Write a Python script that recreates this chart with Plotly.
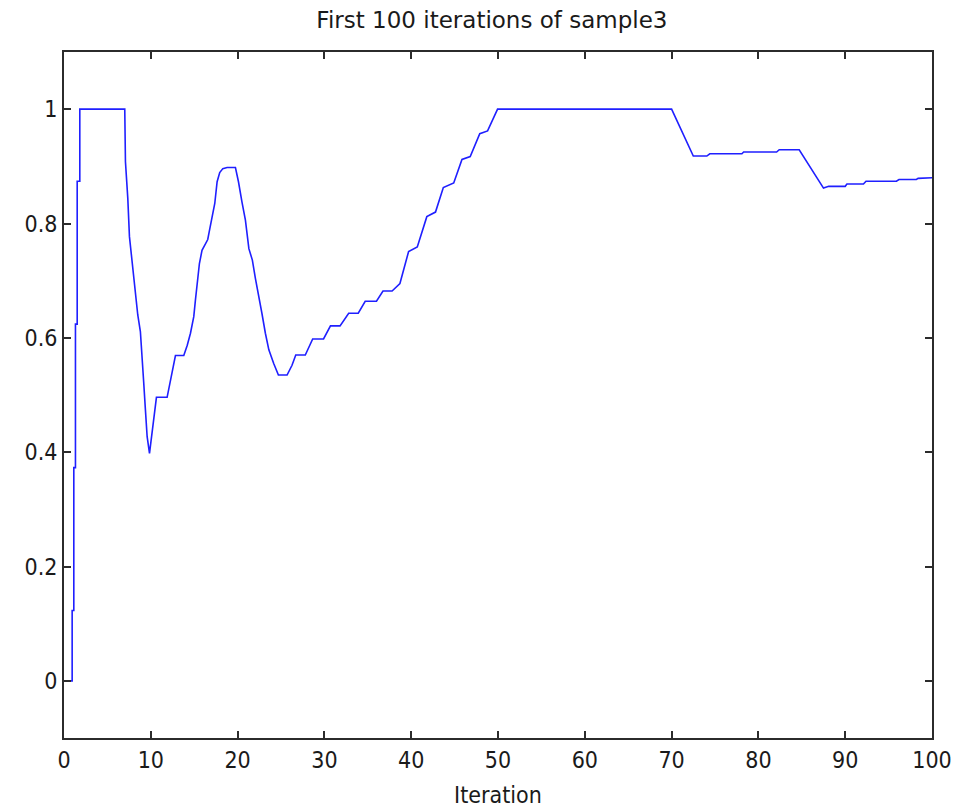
import plotly.graph_objects as go

# Running value of sample3 over the first 100 iterations
iteration = [
    0.25, 0.94, 0.94, 1.13, 1.13, 1.32, 1.32, 1.52, 1.52, 1.82, 1.82, 7.0,
    7.08, 7.35, 7.54, 7.85, 8.04, 8.23, 8.5, 8.8, 9.0, 9.19, 9.38, 9.58, 9.85,
    10.15, 10.34, 10.65, 11.88, 12.2, 12.46, 12.84, 13.8, 14.2, 14.57, 14.95,
    15.14, 15.4, 15.6, 15.9, 16.56, 16.8, 17.06, 17.37, 17.64, 17.94, 18.3,
    18.79, 19.75, 20.1, 20.5, 20.9, 21.3, 21.7, 22.05, 22.4, 22.8, 23.2, 23.6,
    24.16, 24.7, 25.7, 26.27, 26.7, 27.8, 28.65, 29.9, 30.7, 31.8, 32.8, 33.9,
    34.7, 36.0, 36.75, 37.8, 38.7, 39.7, 40.7, 41.8, 42.8, 43.7, 44.9, 45.85,
    46.8, 47.9, 48.8, 49.95, 70.0, 72.5, 74.06, 74.4, 78.1, 78.3, 82.1, 82.4,
    84.7, 87.5, 88.1, 90.0, 90.2, 92.1, 92.4, 95.9, 96.2, 98.2, 98.4, 100.0,
]
value = [
    0.0, 0.0, 0.123, 0.123, 0.373, 0.373, 0.624, 0.624, 0.874, 0.874, 1.0, 1.0,
    0.908, 0.844, 0.777, 0.73, 0.704, 0.672, 0.64, 0.611, 0.57, 0.52, 0.474,
    0.427, 0.398, 0.433, 0.459, 0.496, 0.496, 0.52, 0.544, 0.569, 0.569, 0.587,
    0.608, 0.637, 0.666, 0.701, 0.73, 0.753, 0.772, 0.791, 0.812, 0.835, 0.873,
    0.889, 0.896, 0.898, 0.898, 0.873, 0.838, 0.806, 0.756, 0.736, 0.704,
    0.672, 0.643, 0.608, 0.579, 0.555, 0.535, 0.535, 0.552, 0.57, 0.57, 0.598,
    0.598, 0.621, 0.621, 0.643, 0.643, 0.664, 0.664, 0.682, 0.682, 0.695,
    0.751, 0.759, 0.812, 0.82, 0.863, 0.871, 0.912, 0.917, 0.957, 0.962, 1.0,
    1.0, 0.918, 0.918, 0.922, 0.922, 0.925, 0.925, 0.929, 0.929, 0.862, 0.865,
    0.865, 0.869, 0.869, 0.874, 0.874, 0.877, 0.877, 0.879, 0.88,
]

x_ticks = [0, 10, 20, 30, 40, 50, 60, 70, 80, 90, 100]
y_ticks = [0, 0.2, 0.4, 0.6, 0.8, 1]
y_tick_text = ["0", "0.2", "0.4", "0.6", "0.8", "1"]

tick_font = dict(family="DejaVu Sans Condensed, sans-serif", size=23, color="#1a1a1a")

fig = go.Figure(
    go.Scatter(
        x=iteration, y=value, mode="lines",
        line=dict(color="#1f1fff", width=1.6),
        hoverinfo="x+y",
    )
)

axis_common = dict(
    showline=True, linecolor="#2b2b2b", linewidth=2, mirror="allticks",
    ticks="inside", ticklen=7, tickwidth=1.5, tickcolor="#2b2b2b",
    showgrid=False, zeroline=False, tickfont=tick_font, automargin=False,
)

fig.update_layout(
    width=955, height=809,
    paper_bgcolor="white", plot_bgcolor="white",
    margin=dict(l=64, r=23, t=52, b=71),
    showlegend=False,
    title=dict(
        text="First 100 iterations of sample3",
        x=0.493, xanchor="center", xref="paper",
        y=1 - 20 / 809, yanchor="middle",
        font=dict(family="DejaVu Sans", size=23, color="#1a1a1a"),
    ),
    xaxis=dict(
        range=[0, 100], tickvals=x_ticks, ticklabelstandoff=0,
        title=dict(text="Iteration", font=tick_font, standoff=15),
        **axis_common,
    ),
    yaxis=dict(
        range=[-0.1, 1.1], tickvals=y_ticks, ticktext=y_tick_text,
        **axis_common,
    ),
)

fig.write_html("out.html")
